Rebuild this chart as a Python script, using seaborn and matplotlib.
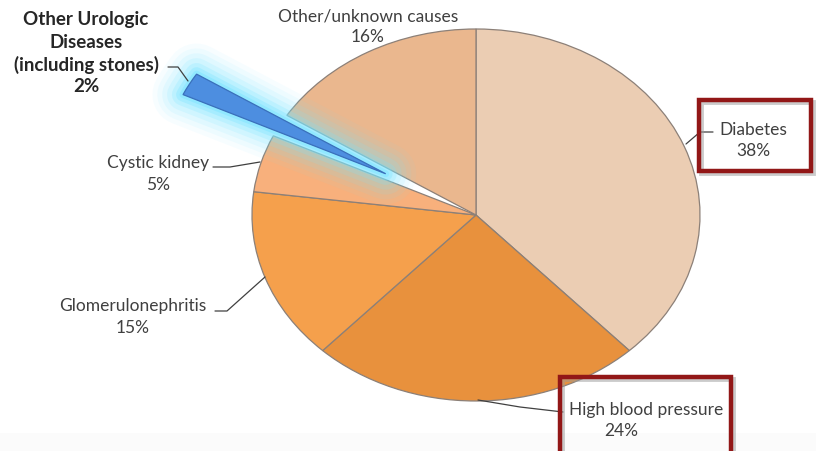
import matplotlib
matplotlib.use("Agg")
import matplotlib.pyplot as plt
import matplotlib.patheffects as pe
from matplotlib.patches import Rectangle
from matplotlib.lines import Line2D
import seaborn as sns

# Causes of kidney failure, clockwise from 12 o'clock
causes = ["Diabetes", "High blood pressure", "Glomerulonephritis",
          "Cystic kidney", "Other Urologic\nDiseases\n(including stones)",
          "Other/unknown causes"]
shares = [38, 24, 15, 5, 2, 16]
slice_colors = ["#EBCDB3", "#E8913D", "#F5A04C", "#F8B07C", "#4D8EE0", "#EAB78E"]
explode = [0, 0, 0, 0, 0.46, 0]

sns.set_theme(style="white")
plt.rcParams["font.family"] = ["Lato", "DejaVu Sans"]

W, H = 816, 452
fig = plt.figure(figsize=(W / 100, H / 100), dpi=100)

# very faint grey strip along the bottom edge
fig.add_artist(Rectangle((0, 0), 1, 18 / H, transform=fig.transFigure,
                         facecolor="#fbfbfb", edgecolor="none", zorder=0))

ax = fig.add_axes([0, 0, 1, 1])
ax.patch.set_alpha(0)

# pie centre / radii in pixels; the pie is drawn slightly flattened
cx, cy, rx, ry = 476, 216, 224, 186

wedges, _ = ax.pie(shares, colors=slice_colors, explode=explode, startangle=90,
                   counterclock=False,
                   wedgeprops=dict(edgecolor="#8c8078", linewidth=0.9))
ax.set_aspect("auto")
ax.set_xlim(-cx / rx, (W - cx) / rx)
ax.set_ylim((cy - H) / ry, cy / ry)
ax.axis("off")

# soft cyan glow around the pulled-out slice
glow = []
for lw, a in [(44, 0.06), (37, 0.08), (30, 0.11), (23, 0.15), (16, 0.22),
              (10, 0.32), (5, 0.45)]:
    glow.append(pe.Stroke(linewidth=lw, foreground="#78e4ff", alpha=a,
                          joinstyle="round", capstyle="round"))
glow.append(pe.Normal())
wedges[4].set_path_effects(glow)
wedges[4].set_edgecolor("#3a70bb")
wedges[4].set_zorder(3)


def fx(x, y):
    return x / W, 1 - y / H


txt = dict(color="#404040", fontsize=12.5, ha="center", va="center")

fig.text(*fx(368, 17), "Other/unknown causes", **txt)
fig.text(*fx(368, 37), f"{shares[5]}%", **txt)

uro = dict(txt, fontweight="bold", fontsize=13.5, color="#262626")
fig.text(*fx(86, 20), "Other Urologic", **uro)
fig.text(*fx(86, 43), "Diseases", **uro)
fig.text(*fx(86, 65), "(including stones)", **uro)
fig.text(*fx(86, 87), f"{shares[4]}%", **uro)

fig.text(*fx(158, 163), "Cystic kidney", **txt)
fig.text(*fx(158, 185), f"{shares[3]}%", **txt)

fig.text(*fx(133, 306), "Glomerulonephritis", **txt)
fig.text(*fx(133, 328), f"{shares[2]}%", **txt)

fig.text(*fx(753, 130), "Diabetes", **txt)
fig.text(*fx(753, 151), f"{shares[0]}%", **txt)

fig.text(*fx(646, 410), "High blood pressure", **txt)
fig.text(*fx(621, 431), f"{shares[1]}%", **txt)

# leader lines
leaders = [
    [(168, 68), (178, 68), (188, 82)],
    [(213, 168), (230, 168), (260, 163)],
    [(215, 312), (227, 312), (265, 278)],
    [(686, 145), (700, 133), (713, 133)],
    [(478, 401), (520, 408), (563, 413)],
]
for pts in leaders:
    xs = [p[0] / W for p in pts]
    ys = [1 - p[1] / H for p in pts]
    fig.add_artist(Line2D(xs, ys, color="#404040", linewidth=0.9,
                          transform=fig.transFigure))

# highlight boxes with a faint drop shadow
for (x0, y0, x1, y1) in [(699, 101, 811, 172), (560, 378, 731, 460)]:
    sh = Rectangle(((x0 + 2) / W, 1 - (y1 + 2) / H), (x1 - x0) / W, (y1 - y0) / H,
                   transform=fig.transFigure, fill=False,
                   edgecolor="#999999", alpha=0.5, linewidth=3.5, zorder=4)
    fig.add_artist(sh)
    r = Rectangle((x0 / W, 1 - y1 / H), (x1 - x0) / W, (y1 - y0) / H,
                  transform=fig.transFigure, fill=False,
                  edgecolor="#921717", linewidth=3.2, zorder=5)
    fig.add_artist(r)

fig.savefig("out.png", dpi=100)
